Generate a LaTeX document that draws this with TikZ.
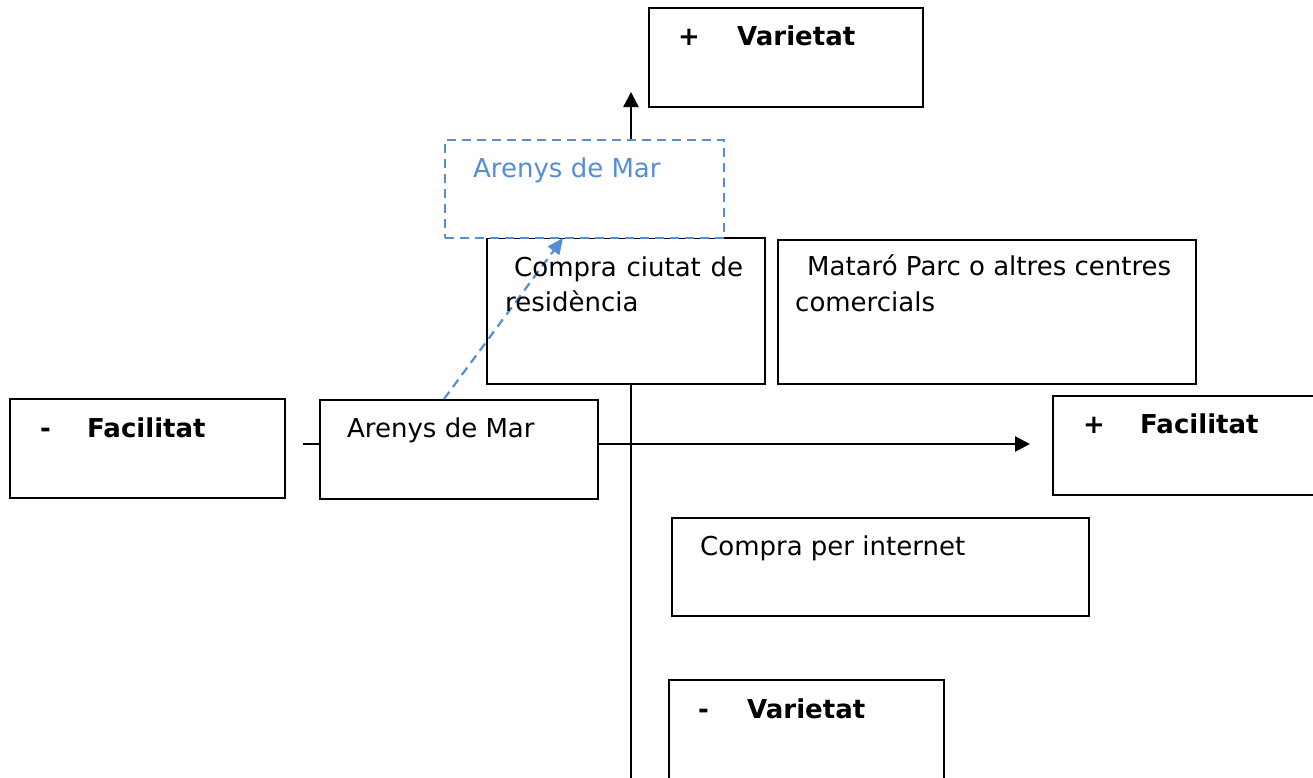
\documentclass[tikz,border=0pt]{standalone}
\usepackage{fontspec}
\setmainfont{DejaVu Sans}
\usetikzlibrary{arrows.meta}
\definecolor{ablue}{RGB}{85,142,213}
\begin{document}
\begin{tikzpicture}[x=1pt,y=-1pt,
  boxstyle/.style={draw=black,line width=2.2pt,fill=white,inner sep=0pt,anchor=north west},
  dashbox/.style={draw=ablue,line width=2.2pt,dash pattern=on 9pt off 6pt,fill=white,inner sep=0pt,anchor=north west},
  txt/.style={anchor=base west,inner sep=0pt,font=\fontsize{26}{35}\selectfont},
  btxt/.style={txt,font=\fontsize{26}{35}\selectfont\bfseries},
  conn/.style={line width=2.4pt,draw=black},
  bigtip/.style={-{Triangle[length=15pt,width=15pt]}}
]
\clip (0,0) rectangle (1313,777);
% coordinates
\coordinate (vx) at (631,0);
\coordinate (vbot) at (631,780);
\coordinate (vtip) at (631,92);
\coordinate (hl) at (303,444);
\coordinate (htip) at (1030,444);
\coordinate (bs) at (444,0);
\coordinate (btip) at (563,238);

% boxes
\node[boxstyle,minimum width=274pt,minimum height=99pt] (pv) at (648,7) {};
\node[boxstyle,minimum width=278pt,minimum height=146pt] (cc) at (486,237) {};
\node[boxstyle,minimum width=418pt,minimum height=144pt] (mp) at (777,239) {};
\node[dashbox,minimum width=279pt,minimum height=98pt] (da) at (444,139) {};
\node[boxstyle,minimum width=275pt,minimum height=99pt] (mf) at (9,398) {};
\node[boxstyle,minimum width=278pt,minimum height=99pt] (am) at (319,399) {};
\node[boxstyle,minimum width=290pt,minimum height=99pt] (pf) at (1052,395) {};
\node[boxstyle,minimum width=417pt,minimum height=98pt] (ci) at (671,517) {};
\node[boxstyle,minimum width=275pt,minimum height=120pt] (mv) at (668,679) {};

% connectors
\draw[conn,bigtip] (da.north -| vx) -- (vtip);
\draw[conn] (cc.south -| vx) -- (vbot);
\draw[conn] (hl) -- (am.west |- hl);
\draw[conn,bigtip] (am.east |- hl) -- (htip);
\draw[draw=ablue,line width=2.2pt,dash pattern=on 9pt off 6pt,-{Triangle[length=16pt,width=14pt]}] (am.north -| bs) -- (btip);

% texts
\node[btxt] (pvs) at (678,45) {+};
\node[btxt] (pvt) at (737,45) {Varietat};
\node[txt,text=ablue] (dat) at (473,177) {Arenys de Mar};
\node[txt] (cc1) at (514,276) {\makebox[229pt][s]{Compra ciutat de}};
\node[txt] (cc2) at (505,311) {residència};
\node[txt] (mp1) at (807,275) {Mataró Parc o altres centres};
\node[txt] (mp2) at (795,311) {comercials};
\node[btxt] (mfs) at (40,437) {-};
\node[btxt] (mft) at (87,437) {Facilitat};
\node[txt] (amt) at (347,437) {Arenys de Mar};
\node[btxt] (pfs) at (1083,433) {+};
\node[btxt] (pft) at (1140,433) {Facilitat};
\node[txt] (cit) at (700,555) {Compra per internet};
\node[btxt] (mvs) at (698,718) {-};
\node[btxt] (mvt) at (747,718) {Varietat};
\end{tikzpicture}
\end{document}
